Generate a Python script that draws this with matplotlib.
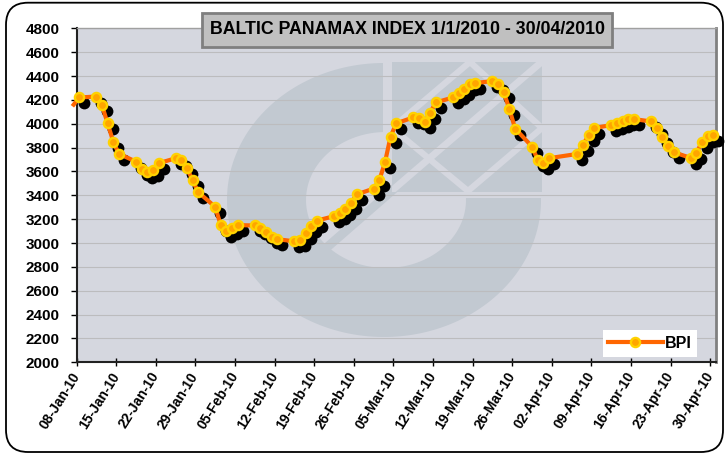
import matplotlib
matplotlib.use('Agg')
import matplotlib.pyplot as plt
import matplotlib.dates as mdates
from matplotlib.patches import Rectangle, FancyBboxPatch, PathPatch
from matplotlib.path import Path
from matplotlib.lines import Line2D
from matplotlib.transforms import offset_copy, Affine2D
import numpy as np

plt.rcParams['font.family'] = ['Liberation Sans', 'DejaVu Sans']

# ---------------- data ----------------
dates = ['2010-01-07', '2010-01-08',
         '2010-01-11', '2010-01-12', '2010-01-13', '2010-01-14', '2010-01-15',
         '2010-01-18', '2010-01-19', '2010-01-20', '2010-01-21', '2010-01-22',
         '2010-01-25', '2010-01-26', '2010-01-27', '2010-01-28', '2010-01-29',
         '2010-02-01', '2010-02-02', '2010-02-03', '2010-02-04', '2010-02-05',
         '2010-02-08', '2010-02-09', '2010-02-10', '2010-02-11', '2010-02-12',
         '2010-02-15', '2010-02-16', '2010-02-17', '2010-02-18', '2010-02-19',
         '2010-02-22', '2010-02-23', '2010-02-24', '2010-02-25', '2010-02-26',
         '2010-03-01', '2010-03-02', '2010-03-03', '2010-03-04', '2010-03-05',
         '2010-03-08', '2010-03-09', '2010-03-10', '2010-03-11', '2010-03-12',
         '2010-03-15', '2010-03-16', '2010-03-17', '2010-03-18', '2010-03-19',
         '2010-03-22', '2010-03-23', '2010-03-24', '2010-03-25', '2010-03-26',
         '2010-03-29', '2010-03-30', '2010-03-31', '2010-04-01',
         '2010-04-06', '2010-04-07', '2010-04-08', '2010-04-09',
         '2010-04-12', '2010-04-13', '2010-04-14', '2010-04-15', '2010-04-16',
         '2010-04-19', '2010-04-20', '2010-04-21', '2010-04-22', '2010-04-23',
         '2010-04-26', '2010-04-27', '2010-04-28', '2010-04-29', '2010-04-30']
bpi = [4160, 4220,
       4228, 4155, 4003, 3848, 3747,
       3683, 3623, 3592, 3612, 3669,
       3710, 3697, 3630, 3528, 3427,
       3303, 3150, 3104, 3122, 3150,
       3147, 3130, 3092, 3053, 3032,
       3014, 3024, 3084, 3142, 3188,
       3225, 3250, 3281, 3334, 3407,
       3456, 3525, 3675, 3892, 4003,
       4053, 4047, 4011, 4094, 4178,
       4220, 4258, 4295, 4333, 4341,
       4358, 4334, 4264, 4122, 3960,
       3808, 3697, 3669, 3711,
       3747, 3822, 3906, 3964,
       3989, 4003, 4025, 4039, 4039,
       4019, 3964, 3892, 3817, 3761,
       3714, 3753, 3844, 3900, 3906]

title = 'BALTIC PANAMAX INDEX 1/1/2010 - 30/04/2010'
series_name = 'BPI'
y_ticks = list(range(2000, 4801, 200))
axis_start = '2010-01-08'
axis_end = '2010-04-30'
tick_step_days = 7

# ---------------- colours ----------------
BG = '#D5D7DF'
LOGO = '#C2C9D1'
LINE = '#FF6600'
MFACE = '#FFA500'
MEDGE = '#FFD200'

W, H, DPI = 728, 457, 100
fig = plt.figure(figsize=(W / DPI, H / DPI), dpi=DPI)
fig.patch.set_facecolor('white')

# pixel transform (origin bottom-left, in pixels)
tr = Affine2D().scale(1.0 / DPI) + fig.dpi_scale_trans
def Y(y_top):
    return H - y_top

# plot area
L, R, T, B = 76.5, 716.0, 28.3, 362.3
ax = fig.add_axes([L / W, (H - B) / H, (R - L) / W, (B - T) / H])
ax.set_facecolor(BG)
ax.set_axisbelow(True)

# ---------------- watermark logo ----------------
def ellipse_pts(cx, cy, rx, ry, n=200, rev=False):
    t = np.linspace(0, 2 * np.pi, n)
    if rev:
        t = t[::-1]
    return np.column_stack([cx + rx * np.cos(t), Y(cy) + ry * np.sin(t)])

outer = ellipse_pts(384, 200, 157, 137)
inner = ellipse_pts(386, 200, 80, 68, rev=True)
verts = np.vstack([outer, inner])
codes = ([Path.MOVETO] + [Path.LINETO] * (len(outer) - 1) +
         [Path.MOVETO] + [Path.LINETO] * (len(inner) - 1))
ring = PathPatch(Path(verts, codes), facecolor=LOGO, edgecolor='none',
                 transform=tr, zorder=0.1)
ax.add_patch(ring)
ring.set_clip_path(ax.patch)
cut = Rectangle((383, Y(198.3)), 170, 198.3 - 50, facecolor=BG, edgecolor='none',
                transform=tr, zorder=0.15)
ax.add_patch(cut)
cut.set_clip_path(ax.patch)
square = Rectangle((391.7, Y(191.7)), 150, 130, facecolor=LOGO, edgecolor='none',
                   transform=tr, zorder=0.2)
ax.add_patch(square)
square.set_clip_path(ax.patch)
dx = [470, 542, 468, 392, 470]
dy = [Y(62), Y(128), Y(191), Y(128), Y(62)]
diamond = Line2D(dx, dy, color=BG, lw=4.5, transform=tr, zorder=0.25,
                 solid_joinstyle='miter')
ax.add_line(diamond)
diamond.set_clip_path(square)
diag = Line2D([545, 388], [Y(59), Y(194)], color=BG, lw=5, transform=tr, zorder=0.25)
ax.add_line(diag)
diag.set_clip_path(square)
diag2 = Line2D([395, 325], [Y(188), Y(249)], color=LOGO, lw=6.5, transform=tr,
               zorder=0.22, solid_capstyle='butt')
ax.add_line(diag2)
diag2.set_clip_path(ax.patch)

# ---------------- axes ----------------
x0 = mdates.datestr2num(axis_start)
x1 = mdates.datestr2num(axis_end) + 1
ax.set_xlim(x0, x1)
ax.set_ylim(y_ticks[0], y_ticks[-1])
ax.set_yticks(y_ticks)
ax.set_yticklabels([str(v) for v in y_ticks], fontsize=11, fontweight='bold')
xt = np.arange(x0, x1, tick_step_days)
ax.set_xticks(xt)
ax.set_xticklabels([mdates.num2date(v).strftime('%d-%b-%y') for v in xt],
                   fontsize=10, fontweight='bold', rotation=58,
                   ha='right', va='center', rotation_mode='anchor')
ax.tick_params(axis='x', direction='inout', length=6, width=1, pad=5, colors='black')
ax.tick_params(axis='y', direction='out', length=4, width=1, pad=8, colors='black')
ax.grid(axis='y', color='#BCBCBE', lw=0.8)
ax.grid(axis='x', visible=False)
for s in ['left', 'bottom']:
    ax.spines[s].set_color('#222222')
    ax.spines[s].set_linewidth(1.5)
ax.spines['right'].set_color('#808080')
ax.spines['right'].set_linewidth(2)
ax.spines['top'].set_color('#A0A0A0')
ax.spines['top'].set_linewidth(1)

# ---------------- series ----------------
xs = mdates.datestr2num(dates) + 0.5
ys = np.array(bpi, dtype=float)
shadow_tr = offset_copy(ax.transData, fig=fig, x=5, y=-6, units='dots')
ax.plot(xs[1:], ys[1:], 'o', ms=8.5, color='black', mew=0, transform=shadow_tr,
        zorder=3, clip_on=False)
ax.plot(xs, ys, '-', color=LINE, lw=3, zorder=4, clip_on=False,
        solid_joinstyle='round')
ax.plot(xs[1:], ys[1:], 'o', ms=6.6, mfc=MFACE, mec=MEDGE, mew=1.7, ls='none',
        zorder=5, clip_on=False)

handle = Line2D([], [], color=LINE, lw=3, marker='o', ms=6.6, mfc=MFACE,
                mec=MEDGE, mew=1.7)
leg = ax.legend([handle], [series_name], loc='center',
                bbox_to_anchor=(650 / W, (H - 343.5) / H),
                bbox_transform=fig.transFigure, frameon=True, fancybox=False,
                handlelength=3.4, handletextpad=0.15, borderpad=0.35,
                prop={'weight': 'bold', 'size': 11.5}, numpoints=1)
leg.get_frame().set_facecolor('white')
leg.get_frame().set_edgecolor('none')
leg.get_frame().set_alpha(1)
leg.set_zorder(10)

# ---------------- chart frame & title ----------------
frame = FancyBboxPatch((6, Y(452)), 717, 452 - 2.7, boxstyle='round,pad=0,rounding_size=22',
                       facecolor='none', edgecolor='black', lw=1.3, transform=tr)
fig.patches.append(frame)
tbox = Rectangle((202, Y(47)), 410, 34, facecolor='#C0C0C0', edgecolor='#7F7F7F',
                 lw=2, transform=tr, zorder=5)
fig.patches.append(tbox)
fig.text(407 / W, (H - 30) / H, title, ha='center', va='center',
         fontsize=12.8, fontweight='bold', color='black', zorder=6)

fig.savefig('out.png', dpi=DPI, facecolor='white')
